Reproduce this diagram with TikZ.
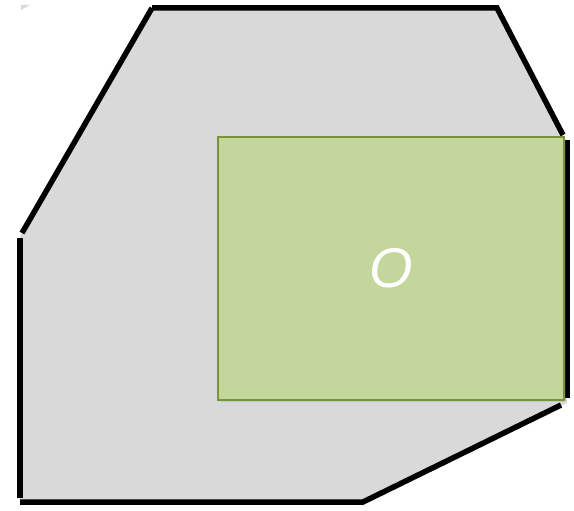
\documentclass[tikz,border=0pt]{standalone}
\usepackage{fontspec}
\usetikzlibrary{shadows}
\newfontfamily\labelfont{Liberation Sans}
\definecolor{hullgray}{RGB}{217,217,217}
\definecolor{leafgreen}{RGB}{195,214,155}
\definecolor{leafedge}{RGB}{119,147,60}

\begin{document}
\begin{tikzpicture}[
  x=1pt,y=-1pt,
  edge/.style={
    draw=black,
    line width=5.5pt,
    line cap=butt
  },
  obox/.style={
    draw=leafedge,
    line width=2pt,
    fill=leafgreen,
    minimum width=346pt,
    minimum height=263pt,
    inner sep=0pt,
    text=white,
    drop shadow={opacity=0.2,shadow xshift=1.5pt,shadow yshift=-2pt}
  }
]
\useasboundingbox (0,0) rectangle (574,511);
% corner points of the hull
\coordinate (p1) at (152,8);
\coordinate (p2) at (497,8);
\coordinate (p3) at (563,135);
\coordinate (p4) at (567,403);
\coordinate (p5) at (363,502);
\coordinate (p6) at (20,502);
\coordinate (p7) at (20,236);
\fill[hullgray] (p1) -- (p2) -- (p3) -- (p4) -- (p5) -- (p6) -- (p7) -- cycle;
\fill[hullgray] (21,5) -- (30,5) -- (21,10) -- cycle;
% black sides
\draw[edge] (152,8) -- (497,8) -- (563,135);
\draw[edge] (567,140) -- (567,398);
\draw[edge] (561,405) -- (363,502) -- (20,502);
\draw[edge] (20,498) -- (20,238);
\draw[edge] (22,233) -- (152,8);
% the green box
\node[obox] (o) at (391,268.5) {\labelfont\itshape\fontsize{56}{56}\selectfont O};
\end{tikzpicture}
\end{document}
